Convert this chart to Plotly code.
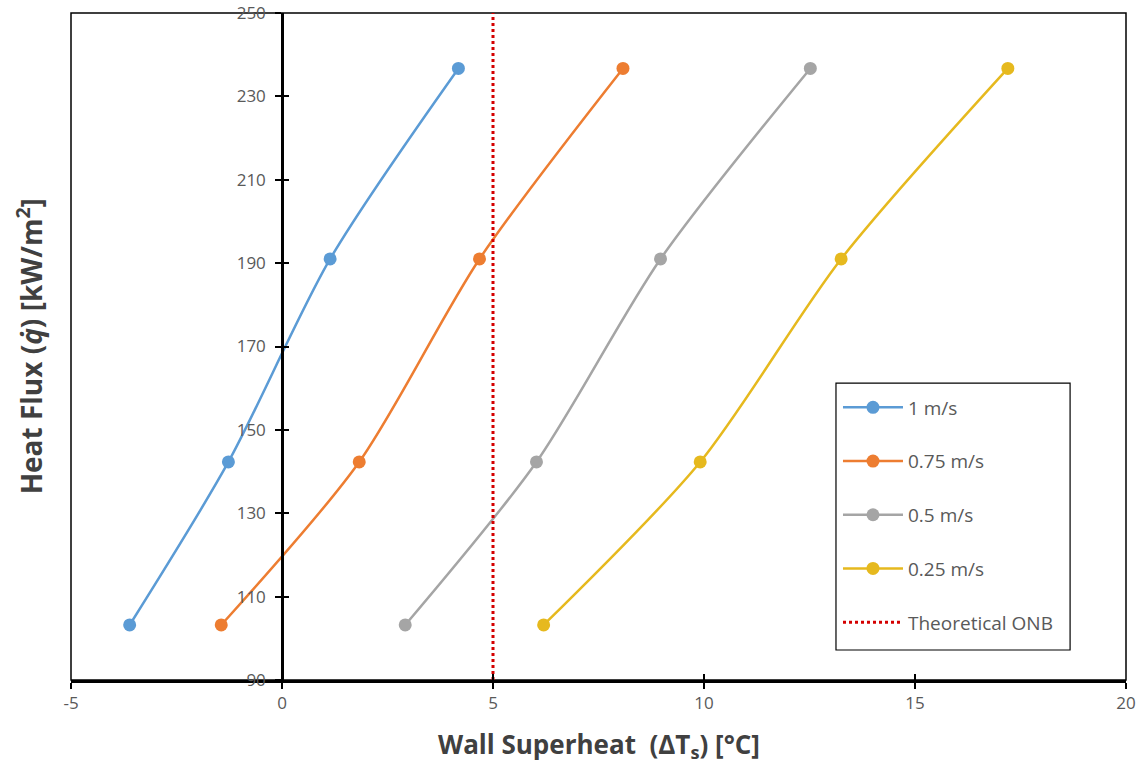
import plotly.graph_objects as go

heat_flux = [103.2, 142.3, 191.0, 236.7]
x_1ms = [-3.61, -1.27, 1.14, 4.18]
x_075ms = [-1.44, 1.83, 4.68, 8.08]
x_05ms = [2.92, 6.03, 8.97, 12.52]
x_025ms = [6.20, 9.91, 13.25, 17.20]
onb_x = [5, 5]
onb_y = [90, 250]
x_ticks = [-5, 0, 5, 10, 15, 20]
x_tick_labels = ["-5", "0", "5", "10", "15", "20"]
y_ticks = [90, 110, 130, 150, 170, 190, 210, 230, 250]

series = [
    ("1 m/s", x_1ms, "#5B9BD5"),
    ("0.75 m/s", x_075ms, "#ED7D31"),
    ("0.5 m/s", x_05ms, "#A5A5A5"),
    ("0.25 m/s", x_025ms, "#E6B91E"),
]

FONT = "'Open Sans', Lato, sans-serif"

fig = go.Figure()
for i, (name, xs, col) in enumerate(series):
    fig.add_trace(go.Scatter(
        x=xs, y=heat_flux, name=name, mode="lines+markers",
        line=dict(color=col, width=2.5, shape="spline", smoothing=0.8),
        marker=dict(color=col, size=13),
        legendgroup=f"g{i}",
    ))
fig.add_trace(go.Scatter(
    x=onb_x, y=onb_y, name="Theoretical ONB", mode="lines",
    line=dict(color="#D40000", width=3, dash="dot"),
    legendgroup="g5",
))
fig.add_trace(go.Scatter(x=[None], y=[None], xaxis="x2", yaxis="y2",
                         showlegend=False, hoverinfo="skip"))

tickfont = dict(family=FONT, size=17, color="#595959")

fig.update_layout(
    width=1141, height=768,
    margin=dict(l=71, r=15, t=13, b=88, autoexpand=False),
    paper_bgcolor="white", plot_bgcolor="white",
    xaxis=dict(
        range=[-5, 20], tickvals=x_ticks, ticktext=x_tick_labels,
        showgrid=False, zeroline=False,
        showline=True, linecolor="black", linewidth=2.5,
        ticks="outside", ticklen=6, tickwidth=2, tickcolor="black",
        tickfont=tickfont, automargin=False,
    ),
    yaxis=dict(
        range=[90, 250], tickvals=y_ticks, showgrid=False, zeroline=False,
        anchor="free", position=0.2,
        showline=True, linecolor="black", linewidth=2.5,
        ticks="outside", ticklen=6, tickwidth=2, tickcolor="black",
        tickfont=tickfont, automargin=False, ticklabelstandoff=6,
    ),
    xaxis2=dict(range=[-5, 20], tickvals=x_ticks, overlaying="x", anchor="y2",
                showgrid=False, zeroline=False, showline=False,
                ticks="inside", ticklen=6, tickwidth=2, tickcolor="black",
                showticklabels=False),
    yaxis2=dict(range=[90, 250], tickvals=y_ticks, overlaying="y",
                anchor="free", position=0.2, side="left",
                showgrid=False, zeroline=False, showline=False,
                ticks="inside", ticklen=6, tickwidth=2, tickcolor="black",
                showticklabels=False),
    legend=dict(
        x=0.727, y=0.437, xanchor="left", yanchor="top",
        borderwidth=0, bgcolor="rgba(0,0,0,0)",
        font=dict(family=FONT, size=19, color="#595959"),
        tracegroupgap=26, itemwidth=60,
    ),
    showlegend=True,
    shapes=[
        dict(type="rect", xref="paper", yref="paper", x0=0, y0=0, x1=1, y1=1,
             line=dict(color="black", width=1.5), layer="below"),
        dict(type="rect", xref="paper", yref="paper", x0=0.7251, y0=0.045,
             x1=0.947, y1=0.445, line=dict(color="black", width=1.2),
             fillcolor="white", layer="below"),
    ],
    annotations=[
        dict(text="<b>Wall Superheat \u00a0(ΔT<sub>s</sub>) [°C]</b>",
             xref="paper", yref="paper", x=0.5, y=-0.097,
             xanchor="center", yanchor="middle", showarrow=False,
             font=dict(family=FONT, size=26, color="#404040")),
        dict(text="<b>Heat Flux (<i>q\u0307</i>) [kW/m<sup>2</sup>]</b>",
             xref="paper", yref="paper", x=-0.039, y=0.5, textangle=-90,
             xanchor="center", yanchor="middle", showarrow=False,
             font=dict(family=FONT, size=28, color="#404040")),
    ],
)

fig.write_html("out.html")
